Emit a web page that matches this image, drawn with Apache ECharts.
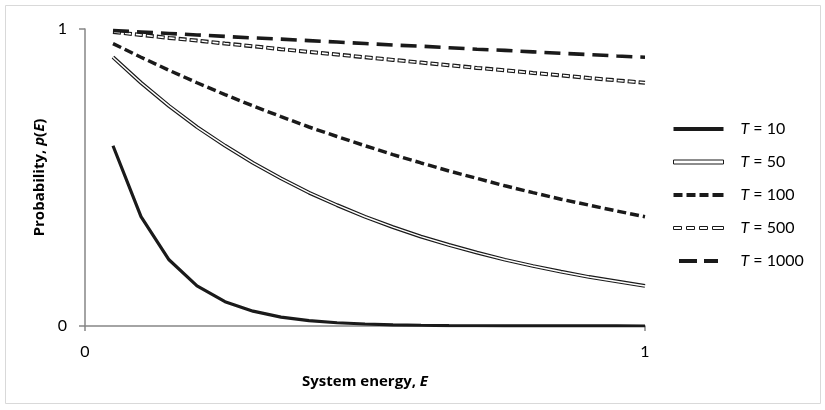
<!DOCTYPE html>
<html><head><meta charset="utf-8">
<script src="https://cdn.jsdelivr.net/npm/echarts@6/dist/echarts.min.js"></script>
<style>html,body{margin:0;padding:0;background:#fff}#c{width:825px;height:410px}</style>
</head><body><div id="c"></div>
<script>
const energy = [0.05,0.10,0.15,0.20,0.25,0.30,0.35,0.40,0.45,0.50,0.55,0.60,0.65,0.70,0.75,0.80,0.85,0.90,0.95,1.00];
const pT10 = [0.607,0.368,0.223,0.135,0.082,0.050,0.030,0.018,0.011,0.0067,0.0041,0.0025,0.0015,0.0009,0.0006,0.0003,0.0002,0.0001,0.0001,0.00005];
const pT50 = [0.905,0.819,0.741,0.670,0.607,0.549,0.497,0.449,0.407,0.368,0.333,0.301,0.273,0.247,0.223,0.202,0.183,0.165,0.150,0.135];
const pT100 = [0.951,0.905,0.861,0.819,0.779,0.741,0.705,0.670,0.638,0.607,0.577,0.549,0.522,0.497,0.472,0.449,0.427,0.407,0.387,0.368];
const pT500 = [0.990,0.980,0.970,0.961,0.951,0.942,0.932,0.923,0.914,0.905,0.896,0.887,0.878,0.869,0.861,0.852,0.844,0.835,0.827,0.819];
const pT1000 = [0.995,0.990,0.985,0.980,0.975,0.970,0.966,0.961,0.956,0.951,0.946,0.942,0.937,0.932,0.928,0.923,0.918,0.914,0.909,0.905];
const temps = ['10','50','100','500','1000'];
const xTicks = ['0','1'];
const yTicks = ['0','1'];

const pairs = a => energy.map((e,i)=>[e,a[i]]);
const names = temps.map(t => 'T = ' + t);
const font = 'Lato';
const titleFont = 'Open Sans';
const axisGray = '#868686';

function line(name, data, color, width, dash, z, offset) {
  return {
    type:'line', name, data: pairs(data), symbol:'none', smooth:false, z,
    lineStyle:{color, width, type: dash || 'solid', cap:'butt', dashOffset: offset || 0},
    silent:true, animation:false
  };
}

const series = [
  line(names[0], pT10, '#1a1a1a', 3.2, null, 5),
  line(names[1], pT50, '#1a1a1a', 3.8, null, 3),
  line('w50', pT50, '#ffffff', 1.5, null, 4),
  line(names[2], pT100, '#1a1a1a', 3.5, [9,4], 3),
  line(names[3], pT500, '#1a1a1a', 4, [8,3], 3),
  line('w500', pT500, '#ffffff', 1.6, [6,5], 4, 10),
  line(names[4], pT1000, '#1a1a1a', 3.6, [16,8], 6)
];

const icons = [
  'path://M0,0L50,0L50,4L0,4Z',
  'path://M0,0L50,0L50,4L0,4Z',
  'path://M0,0L9,0L9,4L0,4ZM13,0L22,0L22,4L13,4ZM26,0L35,0L35,4L26,4ZM39,0L50,0L50,4L39,4Z',
  'path://M0,0L8,0L8,3L0,3ZM13,0L21,0L21,3L13,3ZM26,0L34,0L34,3L26,3ZM39,0L50,0L50,3L39,3Z',
  'path://M0,0L18,0L18,4L0,4ZM25,0L39,0L39,4L25,4Z'
];
const legendData = names.map((n,i)=>({
  name:n, icon: icons[i],
  itemStyle: (i===1||i===3) ? {color:'#fff', borderColor:'#1a1a1a', borderWidth:1} : {color:'#1a1a1a', borderWidth:0}
}));

const titleRich = {
  b:{fontFamily:titleFont, fontWeight:'bold', fontSize:15, color:'#000'},
  bi:{fontFamily:titleFont, fontWeight:'bold', fontStyle:'italic', fontSize:15, color:'#000'}
};

const chart = echarts.init(document.getElementById('c'), null, {renderer:'canvas'});
chart.setOption({
  animation:false,
  backgroundColor:'#fff',
  textStyle:{fontFamily:font},
  graphic:[{type:'rect', shape:{x:5.5,y:5.5,width:815,height:398}, style:{fill:'none', stroke:'#d9d9d9', lineWidth:1}, silent:true, z:-10}],
  grid:{left:85, right:180, top:29, bottom:84, containLabel:false},
  legend:{
    orient:'vertical', left:673, top:119, padding:0, itemWidth:50, itemHeight:4, itemGap:13,
    data: legendData, selectedMode:false,
    textStyle:{fontFamily:font, fontSize:16, lineHeight:20, color:'#000', padding:[0,0,0,12],
      rich:{i:{fontStyle:'italic', fontFamily:font, fontSize:16, lineHeight:20, color:'#000'}, n:{fontFamily:font, fontSize:16, lineHeight:20, color:'#000'}}},
    formatter: n => '{i|T}{n|' + n.slice(1) + '}'
  },
  xAxis:{
    type:'value', min:0, max:1, interval:1,
    name:'{b|System energy, }{bi|E}', nameLocation:'middle', nameGap:48,
    nameTextStyle:{fontFamily:titleFont, fontWeight:'bold', fontSize:15, color:'#000', rich:titleRich},
    axisLine:{show:true, lineStyle:{color:axisGray, width:1.5}},
    axisTick:{show:true, length:5, lineStyle:{color:axisGray, width:1.5}},
    axisLabel:{fontFamily:font, fontSize:16, color:'#000', margin:18, formatter:(v)=> xTicks[Math.round(v)]},
    splitLine:{show:false}
  },
  yAxis:{
    type:'value', min:0, max:1, interval:1,
    name:'{b|Probability, }{bi|p}{b|(}{bi|E}{b|)}', nameLocation:'middle', nameGap:33, nameRotate:90,
    nameTextStyle:{fontFamily:titleFont, fontWeight:'bold', fontSize:15, color:'#000', rich:titleRich},
    axisLine:{show:true, lineStyle:{color:axisGray, width:1.5}},
    axisTick:{show:true, length:6, lineStyle:{color:axisGray, width:1.5}},
    axisLabel:{fontFamily:font, fontSize:16, color:'#000', margin:18, formatter:(v)=> yTicks[Math.round(v)]},
    splitLine:{show:false}
  },
  series
});
</script></body></html>
